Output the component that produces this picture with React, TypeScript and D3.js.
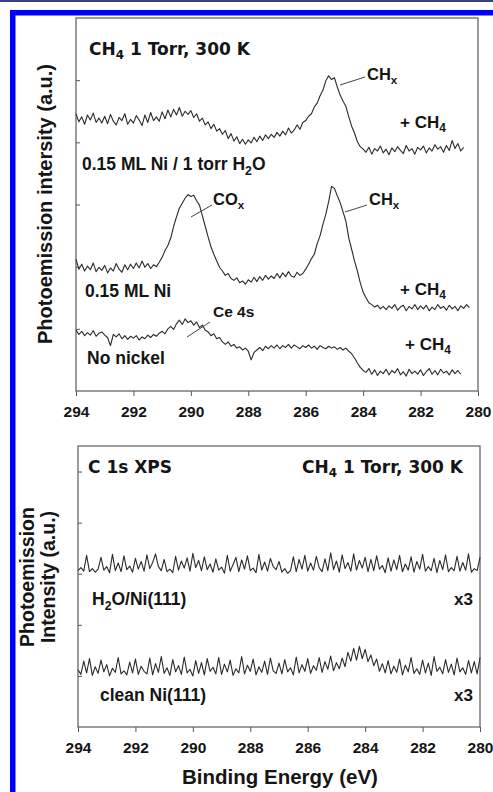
import React, { useEffect, useRef } from 'react';
import * as d3 from 'd3';

const W = 493;
const H = 792;

// every spectrum starts at 294 eV and is sampled each 0.1 eV toward lower binding energy
const startEnergy = 294;
const energyStep = 0.1;
const energyTicks = [294, 292, 290, 288, 286, 284, 282, 280];
const intensityTicks = [10, 20, 30, 40, 50];

// top panel: 0.15 ML Ni / 1 torr H2O + CH4 (294.0 -> 280.5)
const niWaterCH4 = [
  44.6, 43.3, 44.1, 42.9, 44.4, 43.6, 44.7, 43.2, 43.9, 43.1,
  44.2, 43.0, 44.5, 43.4, 42.8, 44.0, 43.5, 44.6, 42.9, 43.7,
  43.1, 44.3, 43.6, 42.7, 44.4, 43.2, 44.8, 43.5, 44.1, 43.4,
  44.9, 43.8, 45.2, 44.1, 45.3, 44.4, 45.6, 44.2, 45.0, 44.5,
  45.1, 44.0, 44.6, 43.4, 43.9, 42.8, 43.3, 42.2, 42.9, 41.8,
  42.2, 41.3, 41.9, 40.6, 41.4, 40.2, 40.9, 39.8, 40.5, 39.7,
  40.4, 39.9, 40.8, 40.1, 41.0, 40.3, 41.2, 40.6, 41.3, 40.8,
  41.6, 41.0, 41.8, 41.2, 42.3, 41.5, 42.0, 42.8, 42.1, 43.2,
  43.5, 44.2, 44.6, 45.7, 46.3, 47.5, 48.4, 49.9, 50.7, 50.1,
  50.4, 48.9, 47.6, 46.6, 45.8, 44.1, 42.6, 41.5, 40.1, 39.3,
  38.9, 38.4, 39.2, 38.1, 39.0, 38.6, 39.4, 38.3, 38.9, 38.0,
  39.1, 38.5, 39.3, 38.7, 38.2, 39.5, 38.6, 39.0, 38.1, 39.2,
  38.8, 39.4, 38.3, 39.1, 38.6, 39.6, 38.9, 39.3, 38.4, 39.5,
  38.7, 40.3, 39.0, 39.8, 38.6, 39.2,
];

// top panel: 0.15 ML Ni + CH4 (294.0 -> 280.3)
const niCH4 = [
  21.2, 19.6, 20.4, 19.3, 20.1, 19.5, 20.6, 19.2, 19.9, 19.4,
  20.2, 19.0, 19.8, 19.3, 20.5, 19.6, 19.1, 20.3, 19.5, 20.4,
  19.7, 20.6, 19.8, 20.9, 19.9, 20.5, 19.7, 20.3, 20.0, 20.7,
  21.5, 22.6, 23.4, 24.6, 26.5, 28.0, 29.4, 30.2, 31.0, 31.6,
  31.3, 31.5, 30.6, 29.9, 28.2, 26.5, 24.8, 23.2, 22.0, 20.9,
  19.9, 19.3, 18.6, 18.9, 18.1, 17.8, 18.2, 17.4, 17.7, 17.2,
  17.9, 17.5, 18.3, 17.6, 18.4, 17.8, 18.6, 18.0, 18.5, 18.1,
  18.9, 18.2, 19.0, 18.4, 19.2, 18.5, 18.3, 19.1, 18.6, 18.9,
  19.6, 20.4, 21.3, 22.0, 23.7, 25.0, 26.8, 28.4, 30.5, 32.9,
  32.6, 31.4, 30.3, 28.8, 27.3, 24.6, 22.8, 20.9, 19.3, 17.4,
  15.9, 15.0, 14.2, 13.9, 13.5, 13.8, 13.2, 13.6, 13.1, 13.7,
  13.3, 13.9, 13.0, 13.5, 13.8, 12.9, 13.6, 13.2, 13.9, 13.1,
  13.7, 13.2, 13.8, 12.9, 13.5, 13.1, 13.9, 13.3, 13.6, 13.0,
  13.8, 13.2, 13.6, 12.9, 13.7, 13.3, 13.9, 13.4,
];

// top panel: no nickel + CH4 (294.0 -> 280.6)
const noNickelCH4 = [
  9.8, 9.1, 9.6, 8.9, 9.4, 9.0, 9.7, 8.8, 9.3, 9.5,
  9.0, 8.6, 7.3, 9.1, 8.7, 9.2, 8.4, 8.9, 8.3, 8.8,
  8.5, 8.9, 8.2, 8.7, 8.4, 9.0, 8.6, 9.1, 8.8, 9.3,
  9.6, 9.2, 10.0, 10.4, 9.9, 10.8, 11.4, 10.7, 11.6, 11.0,
  11.3, 10.6, 11.1, 10.2, 10.6, 9.8, 9.5, 8.9, 9.2, 8.4,
  8.6, 7.9, 7.5, 7.9, 7.2, 7.5, 6.9, 7.1, 6.6, 6.9,
  6.4, 5.0, 6.2, 6.6, 7.0, 6.5, 7.2, 6.8, 7.3, 6.9,
  7.4, 6.8, 7.3, 7.0, 7.5, 6.9, 7.4, 7.1, 6.8, 7.3,
  7.0, 7.4, 6.9, 7.2, 6.7, 7.3, 7.0, 6.8, 7.2, 6.9,
  7.1, 6.7, 7.0, 6.6, 6.9, 6.4, 6.0, 5.3, 4.5, 3.8,
  3.3, 3.0, 3.6, 2.7, 3.4, 2.5, 3.2, 2.8, 3.5, 2.6,
  3.3, 2.9, 3.6, 2.6, 3.1, 2.4, 3.5, 2.8, 3.2, 2.7,
  3.4, 2.5, 3.1, 3.6, 2.7, 3.3, 2.6, 3.5, 2.9, 3.2,
  2.6, 3.4, 2.8, 3.3, 2.7,
];

// bottom panel: H2O/Ni(111) x3 (294.0 -> 280.0)
const waterNi111 = [
  30.6, 31.2, 30.5, 33.6, 30.4, 31.0, 30.3, 30.9, 33.2, 30.7,
  31.4, 30.2, 33.8, 30.6, 32.1, 30.4, 33.5, 30.8, 31.5, 30.3,
  33.0, 30.9, 32.4, 30.5, 33.7, 31.0, 32.2, 33.9, 31.4, 30.6,
  32.8, 30.4, 30.9, 30.2, 33.4, 30.7, 32.5, 31.1, 33.1, 30.5,
  34.0, 31.2, 32.6, 30.6, 33.3, 30.8, 31.9, 30.3, 32.9, 30.7,
  31.3, 30.1, 33.6, 30.5, 31.8, 33.2, 30.4, 32.7, 30.9, 33.5,
  30.6, 31.1, 30.2, 33.8, 30.7, 32.3, 30.5, 33.0, 31.4, 30.8,
  32.4, 30.3, 31.0, 30.1, 30.6, 33.3, 30.4, 32.8, 30.9, 33.6,
  30.5, 32.1, 30.7, 33.4, 31.2, 30.4, 32.9, 30.6, 34.1, 30.8,
  32.5, 30.3, 33.7, 31.0, 32.2, 30.5, 33.9, 30.7, 32.6, 31.1,
  33.2, 30.4, 32.8, 30.6, 33.5, 30.9, 31.6, 30.2, 33.1, 30.5,
  32.7, 30.8, 33.6, 30.4, 31.9, 30.7, 33.3, 30.3, 32.4, 30.9,
  33.8, 30.5, 31.4, 30.6, 33.0, 30.2, 32.6, 30.8, 33.7, 30.4,
  31.2, 30.6, 33.4, 30.5, 32.2, 30.7, 33.9, 30.3, 31.0, 30.6,
  33.2,
];

// bottom panel: clean Ni(111) x3 (294.0 -> 280.0)
const cleanNi111 = [
  11.2, 10.3, 12.9, 10.6, 13.4, 10.1, 11.8, 10.5, 13.1, 10.8,
  12.2, 10.0, 11.5, 10.7, 13.6, 10.4, 11.0, 10.2, 12.7, 10.6,
  13.3, 10.3, 11.9, 10.9, 10.4, 13.5, 10.2, 12.4, 10.7, 13.8,
  10.5, 11.6, 10.1, 13.2, 10.8, 12.0, 10.3, 13.7, 10.6, 11.3,
  10.0, 13.0, 10.5, 12.6, 10.2, 13.4, 10.9, 11.7, 10.4, 13.6,
  10.3, 12.3, 10.8, 13.1, 10.1, 11.4, 10.6, 13.8, 10.4, 12.1,
  10.9, 13.3, 10.2, 11.8, 10.7, 12.9, 10.3, 13.5, 11.0, 10.5,
  12.5, 10.4, 13.2, 10.8, 11.6, 10.2, 13.7, 10.6, 12.2, 10.9,
  13.4, 10.5, 12.0, 11.1, 13.6, 10.7, 12.8, 11.3, 13.9, 11.0,
  12.6, 11.4, 13.5, 11.8, 14.6, 12.9, 15.4, 13.1, 15.8, 13.4,
  15.2, 12.8, 14.1, 12.0, 13.3, 10.9, 12.4, 10.6, 13.0, 10.4,
  11.9, 10.7, 13.3, 10.2, 12.1, 10.8, 13.6, 10.5, 11.4, 10.3,
  13.1, 10.6, 12.5, 10.1, 13.8, 10.9, 11.7, 10.4, 13.2, 10.7,
  12.3, 10.2, 13.5, 10.8, 11.6, 10.3, 13.0, 10.6, 12.8, 10.4,
  13.6,
];

const ARIAL = '"Liberation Sans", Arial, Helvetica, sans-serif';
const WIDE = '"DejaVu Sans", Verdana, sans-serif';
const INK = '#151515';

const toPoints = (values) => values.map((v, i) => [startEnergy - i * energyStep, v]);

// text with subscripts: parts = [['CH'], ['4', true], [' 1 Torr']]
function label(parent, x, y, parts, size, opts = {}) {
  const t = parent.append('text')
    .attr('x', x)
    .attr('y', y)
    .attr('font-family', opts.family || ARIAL)
    .attr('font-weight', 'bold')
    .attr('font-size', size)
    .attr('fill', INK)
    .attr('text-anchor', opts.anchor || 'start');
  if (opts.transform) t.attr('transform', opts.transform);
  let shifted = false;
  parts.forEach(([s, sub]) => {
    const span = t.append('tspan').text(s);
    if (sub && !shifted) { span.attr('dy', size * 0.26).attr('font-size', size * 0.7); shifted = true; }
    else if (sub) span.attr('font-size', size * 0.7);
    else if (shifted) { span.attr('dy', -size * 0.26); shifted = false; }
  });
  return t;
}

function drawPanel(svg, x, y, series) {
  const [y0, y1] = y.range();
  const [x0, x1] = x.range();

  const xAxis = d3.axisBottom(x).tickValues(energyTicks).tickSize(5).tickPadding(10).tickSizeOuter(0);
  svg.append('g')
    .attr('transform', `translate(0,${y0})`)
    .call(xAxis)
    .call(g => g.select('.domain').remove())
    .call(g => g.selectAll('line').attr('stroke', '#555'))
    .call(g => g.selectAll('text')
      .attr('font-family', ARIAL)
      .attr('font-weight', 'bold')
      .attr('font-size', 15.5)
      .attr('fill', INK));

  const yAxis = d3.axisLeft(y).tickValues(intensityTicks).tickSize(-4).tickFormat(() => '').tickSizeOuter(0);
  svg.append('g')
    .attr('transform', `translate(${x0},0)`)
    .call(yAxis)
    .call(g => g.select('.domain').remove())
    .call(g => g.selectAll('line').attr('stroke', '#555'));

  svg.append('rect')
    .attr('x', x0)
    .attr('y', y1)
    .attr('width', x1 - x0)
    .attr('height', y0 - y1)
    .attr('fill', 'none')
    .attr('stroke', '#5a5a5a')
    .attr('stroke-width', 1.2);

  const line = d3.line().x(d => x(d[0])).y(d => y(d[1]));
  series.forEach(values => {
    svg.append('path')
      .datum(toPoints(values))
      .attr('d', line)
      .attr('fill', 'none')
      .attr('stroke', '#2a2a2a')
      .attr('stroke-width', 1.1)
      .attr('stroke-linejoin', 'round');
  });
}

function leader(svg, x1, y1, x2, y2) {
  svg.append('line')
    .attr('x1', x1).attr('y1', y1).attr('x2', x2).attr('y2', y2)
    .attr('stroke', '#444')
    .attr('stroke-width', 1);
}

function App() {
  const chartRef = useRef(null);

  useEffect(() => {
    const svg = d3.select(chartRef.current);
    svg.selectAll('*').remove();

    svg.append('rect').attr('width', W).attr('height', H).attr('fill', '#fff');

    // page frame
    svg.append('rect').attr('x', 0).attr('y', 0).attr('width', W).attr('height', 2).attr('fill', '#3d4080');
    svg.append('rect').attr('x', 10).attr('y', 10).attr('width', W - 10).attr('height', 5.5).attr('fill', '#0000ff');
    svg.append('rect').attr('x', 10).attr('y', 10).attr('width', 5.5).attr('height', H - 10).attr('fill', '#0000ff');

    // top panel
    const xTop = d3.scaleLinear().domain([294, 280]).range([76, 478]);
    const yTop = d3.scaleLinear().domain([0, 60]).range([391, 18]);
    drawPanel(svg, xTop, yTop, [niWaterCH4, niCH4, noNickelCH4]);

    label(svg, 89, 55, [['CH'], ['4', true], [' 1 Torr, 300 K']], 17, { family: WIDE });

    leader(svg, 340, 85, 365, 77);
    label(svg, 367, 80, [['CH'], ['x', true]], 16.5);
    label(svg, 400, 128, [['+ CH'], ['4', true]], 17);
    label(svg, 82, 170, [['0.15 ML Ni / 1 torr H'], ['2', true], ['O']], 17.5);

    leader(svg, 191, 217, 212, 205);
    label(svg, 213, 205, [['CO'], ['x', true]], 16.5);
    leader(svg, 345, 212, 367, 205);
    label(svg, 369, 205, [['CH'], ['x', true]], 16.5);
    label(svg, 85, 297, [['0.15 ML  Ni']], 17.5);
    label(svg, 400, 295, [['+ CH'], ['4', true]], 17);

    leader(svg, 187, 337, 210, 322);
    label(svg, 213, 317, [['Ce 4s']], 15.5);
    label(svg, 405, 350, [['+ CH'], ['4', true]], 17);
    label(svg, 87, 364, [['No nickel']], 17.5);

    label(svg, 0, 0, [['Photoemission intersity (a.u.)']], 20,
      { anchor: 'middle', transform: 'translate(52,204) rotate(-90)' });

    // bottom panel
    const xBot = d3.scaleLinear().domain([294, 280]).range([78, 480]);
    const yBot = d3.scaleLinear().domain([0, 55]).range([727, 446]);
    drawPanel(svg, xBot, yBot, [waterNi111, cleanNi111]);

    label(svg, 88, 473, [['C 1s XPS']], 17, { family: WIDE });
    label(svg, 463, 473, [['CH'], ['4', true], [' 1 Torr, 300 K']], 17, { family: WIDE, anchor: 'end' });
    label(svg, 92, 605, [['H'], ['2', true], ['O/Ni(111)']], 17.5);
    label(svg, 473, 605, [['x3']], 17, { anchor: 'end' });
    label(svg, 100, 701, [['clean Ni(111)']], 17.5);
    label(svg, 473, 701, [['x3']], 17, { anchor: 'end' });

    label(svg, 0, 0, [['Photoemission']], 19.5,
      { anchor: 'middle', transform: 'translate(33.5,577) rotate(-90)' });
    label(svg, 0, 0, [['Intensity  (a.u.)']], 19.5,
      { anchor: 'middle', transform: 'translate(54.5,577) rotate(-90)' });

    label(svg, 280, 784, [['Binding Energy (eV)']], 20.5, { anchor: 'middle' });
  }, []);

  return (
    <svg
      ref={chartRef}
      width={W}
      height={H}
      style={{ position: 'absolute', left: 0, top: 0, display: 'block' }}
    />
  );
}

export default App;
